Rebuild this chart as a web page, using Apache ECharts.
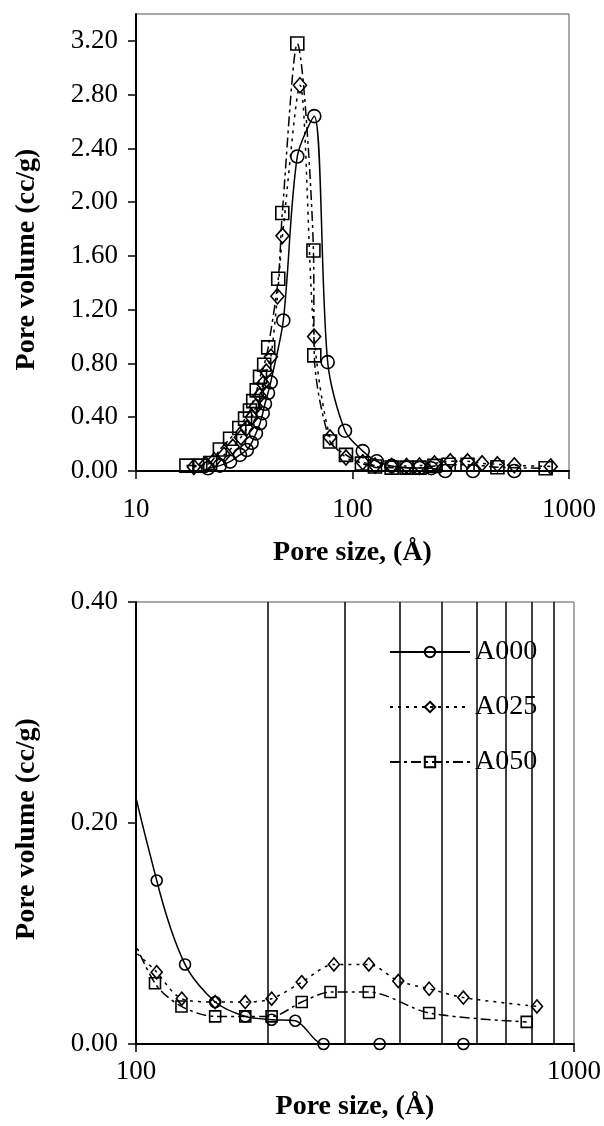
<!DOCTYPE html>
<html>
<head>
<meta charset="utf-8">
<script src="https://cdn.jsdelivr.net/npm/echarts@6/dist/echarts.min.js"></script>
<style>
html,body{margin:0;padding:0;background:#fff;}
#chart{width:604px;height:1126px;}
</style>
</head>
<body>
<div id="chart"></div>
<script>
// ---- data (pore size in Å, pore volume in cc/g) ----
const seriesNames = ['A000', 'A025', 'A050'];

const a000Size = [21.5, 24.4, 27.2, 30.2, 32.5, 34.2, 35.8, 37.4, 38.5, 39.4, 40.7, 41.9, 47.9, 55.6, 66.6, 76.8, 92.3, 111.5, 129.4, 151.6, 177.6, 204, 231, 268, 360, 559];
const a000Vol  = [0.02, 0.04, 0.07, 0.12, 0.156, 0.21, 0.28, 0.355, 0.43, 0.50, 0.58, 0.66, 1.12, 2.34, 2.64, 0.81, 0.30, 0.148, 0.072, 0.038, 0.025, 0.022, 0.021, 0.0, 0.0, 0.0];

const a025Size = [18.5, 21, 23, 25.5, 28, 30.5, 32.5, 34.3, 35.8, 37.2, 38.6, 40, 42, 45, 47.5, 57.2, 66.5, 78.7, 93.3, 111.5, 127.2, 151.6, 177.6, 204, 239, 283, 340, 397, 467, 559, 823];
const a025Vol  = [0.03, 0.05, 0.08, 0.12, 0.18, 0.25, 0.32, 0.40, 0.48, 0.56, 0.65, 0.74, 0.85, 1.3, 1.75, 2.87, 1.0, 0.25, 0.10, 0.065, 0.041, 0.038, 0.038, 0.041, 0.056, 0.072, 0.072, 0.057, 0.050, 0.042, 0.034];

const a050Size = [17.1, 19.8, 22.0, 24.4, 27.2, 30.0, 31.9, 33.6, 34.8, 36.1, 37.4, 39.1, 40.8, 45.4, 47.4, 55.6, 66.0, 66.6, 78.7, 93.3, 110.5, 127, 151.6, 177.6, 204, 239, 278, 340, 467, 780];
const a050Vol  = [0.04, 0.04, 0.06, 0.16, 0.24, 0.32, 0.39, 0.45, 0.52, 0.60, 0.70, 0.79, 0.92, 1.43, 1.92, 3.18, 1.64, 0.86, 0.22, 0.12, 0.055, 0.034, 0.025, 0.025, 0.025, 0.038, 0.047, 0.047, 0.028, 0.020];

const yTicksTop = [0, 0.4, 0.8, 1.2, 1.6, 2.0, 2.4, 2.8, 3.2];
const yTicksBottom = [0, 0.2, 0.4];
const xGridBottom = [200, 300, 400, 500, 600, 700, 800, 900];

const xTitle = 'Pore size, (Å)';
const yTitle = 'Pore volume (cc/g)';

// ---- styles ----
const FONT = 'Liberation Serif';
const pair = (xs, ys) => xs.map((x, i) => [x, ys[i]]);
const lineTypes = { A000: 'solid', A025: [3, 5], A050: [10, 4, 3, 4] };
const symbols = { A000: 'circle', A025: 'diamond', A050: 'rect' };
const dataMap = {
  A000: pair(a000Size, a000Vol),
  A025: pair(a025Size, a025Vol),
  A050: pair(a050Size, a050Vol)
};

function makeSeries(name, gridIdx, size) {
  return {
    name: name,
    type: 'line',
    xAxisIndex: gridIdx,
    yAxisIndex: gridIdx,
    data: dataMap[name],
    smooth: 0.3,
    clip: true,
    symbol: symbols[name],
    symbolSize: name === 'A025' ? [size, size + 2] : size,
    showAllSymbol: true,
    lineStyle: { color: '#000', width: 1.5, type: lineTypes[name] },
    itemStyle: { color: 'rgba(255,255,255,0)', borderColor: '#000', borderWidth: 1.6 },
    emphasis: { disabled: true },
    z: 3
  };
}

const series = [];
seriesNames.forEach(n => series.push(makeSeries(n, 0, 13)));
seriesNames.forEach(n => series.push(makeSeries(n, 1, 11)));
// vertical gridlines for bottom chart
series[3].markLine = {
  silent: true,
  symbol: 'none',
  animation: false,
  label: { show: false },
  lineStyle: { color: '#000', width: 1.5, type: 'solid' },
  data: xGridBottom.map(v => ({ xAxis: v }))
};

const axisLabelStyle = { color: '#000', fontFamily: FONT, fontSize: 27 };
const nameStyle = { color: '#000', fontFamily: FONT, fontSize: 28, fontWeight: 'bold' };

const option = {
  animation: false,
  backgroundColor: '#fff',
  grid: [
    { left: 136, right: 35, top: 14, height: 457, show: true, borderColor: '#555', borderWidth: 1 },
    { left: 136, right: 30, top: 602, height: 442, show: true, borderColor: '#555', borderWidth: 1 }
  ],
  legend: {
    data: seriesNames,
    orient: 'vertical',
    left: 385,
    top: 620,
    itemWidth: 80,
    itemHeight: 13,
    itemGap: 27,
    padding: [18, 8, 14, 4],
    backgroundColor: '#fff',
    textStyle: { color: '#000', fontFamily: FONT, fontSize: 28 },
    selectedMode: false
  },
  xAxis: [
    {
      type: 'log', logBase: 10, min: 10, max: 1000, gridIndex: 0,
      axisLine: { lineStyle: { color: '#000', width: 2 } },
      axisTick: { inside: false, length: 8, lineStyle: { color: '#000', width: 1.5 } },
      axisLabel: { ...axisLabelStyle, margin: 25, formatter: v => String(Math.round(v)) },
      splitLine: { show: false },
      name: xTitle, nameLocation: 'middle', nameGap: 68, nameTextStyle: nameStyle
    },
    {
      type: 'log', logBase: 10, min: 100, max: 1000, gridIndex: 1,
      axisLine: { lineStyle: { color: '#000', width: 2 } },
      axisTick: { inside: false, length: 8, lineStyle: { color: '#000', width: 1.5 } },
      axisLabel: { ...axisLabelStyle, margin: 14, formatter: v => String(Math.round(v)) },
      splitLine: { show: false },
      name: xTitle, nameLocation: 'middle', nameGap: 49, nameTextStyle: nameStyle
    }
  ],
  yAxis: [
    {
      type: 'value', min: 0, max: 3.4, interval: 0.4, gridIndex: 0,
      axisLine: { show: true, lineStyle: { color: '#000', width: 2 } },
      axisTick: { show: true, length: 8, customValues: yTicksTop, lineStyle: { color: '#000', width: 1.5 } },
      axisLabel: { ...axisLabelStyle, margin: 18, customValues: yTicksTop, formatter: v => v.toFixed(2) },
      splitLine: { show: false },
      name: yTitle, nameLocation: 'middle', nameGap: 95,
      nameTextStyle: { ...nameStyle, padding: [0, 34, 0, 0] }
    },
    {
      type: 'value', min: 0, max: 0.4, interval: 0.2, gridIndex: 1,
      axisLine: { show: true, lineStyle: { color: '#000', width: 2 } },
      axisTick: { show: true, length: 8, customValues: yTicksBottom, lineStyle: { color: '#000', width: 1.5 } },
      axisLabel: { ...axisLabelStyle, margin: 18, customValues: yTicksBottom, formatter: v => v.toFixed(2) },
      splitLine: { show: false },
      name: yTitle, nameLocation: 'middle', nameGap: 95,
      nameTextStyle: { ...nameStyle, padding: [0, 12, 0, 0] }
    }
  ],
  series: series
};

const chart = echarts.init(document.getElementById('chart'), null, { renderer: 'canvas' });
chart.setOption(option);
</script>
</body>
</html>
